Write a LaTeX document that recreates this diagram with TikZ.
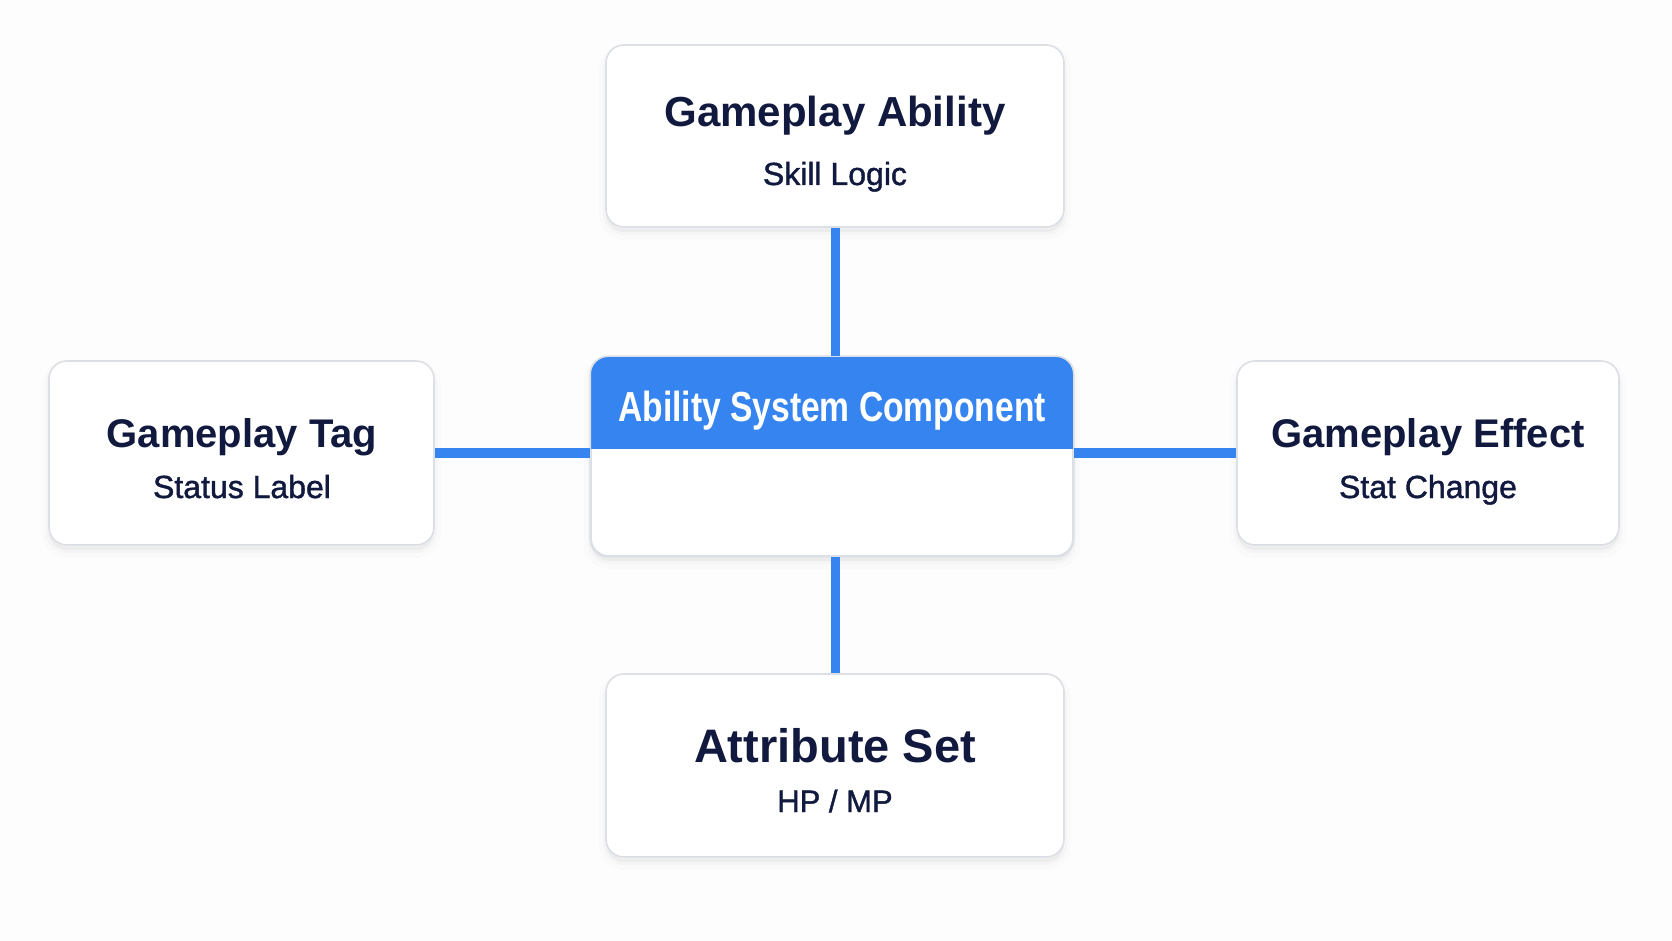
\documentclass[tikz,border=0pt]{standalone}
\usepackage{fontspec}
\setmainfont{Liberation Sans}
\newfontfamily\medfont{Liberation Sans}[FakeBold=1.3]
\definecolor{navy}{HTML}{111A3E}
\definecolor{blu}{HTML}{3584F0}
\definecolor{bord}{HTML}{DCDFE4}
\definecolor{bgc}{HTML}{FDFDFE}
\tikzset{
  card/.style={rectangle, draw=bord, line width=0.8pt, fill=white, rounded corners=9pt, inner sep=0pt,
    preaction={draw=black, draw opacity=0.012, line width=7pt, transform canvas={yshift=-3pt}},
    preaction={fill=black, fill opacity=0.035, draw=black, draw opacity=0.02, line width=3pt, transform canvas={yshift=-2.5pt}}},
  title/.style={anchor=base, text=navy, font=\bfseries\fontsize{20}{24}\selectfont, inner sep=0pt},
  sub/.style={anchor=base, text=navy, font=\medfont\fontsize{16}{19}\selectfont, inner sep=0pt},
  link/.style={draw=blu, line width=4.5pt},
}
\begin{document}
\begin{tikzpicture}[x=0.5pt, y=-0.5pt]
\fill[bgc] (0,0) rectangle (1672,941);
\useasboundingbox (0,0) rectangle (1672,941);

% cards
\node[card, minimum width=229pt, minimum height=91pt] (ga) at (835,136) {};
\node[card, minimum width=192.5pt, minimum height=92pt] (gt) at (241.5,453) {};
\node[card, minimum width=191pt, minimum height=92pt] (ge) at (1428,453) {};
\node[card, minimum width=229pt, minimum height=91.5pt] (as) at (835,765.5) {};
\node[card, minimum width=241pt, minimum height=99.5pt] (asc) at (832,456.5) {};

% header of the central card
\begin{scope}
  \clip[rounded corners=9pt] (asc.south west) rectangle (asc.north east);
  \fill[blu] (asc.north west) rectangle ([yshift=-46.5pt]asc.north east);
\end{scope}
\draw[bord, line width=0.8pt, rounded corners=9pt] (asc.south west) rectangle (asc.north east);

% connectors
\draw[link] (ga.south) -- (ga.south |- asc.north);
\draw[link] (as.north) -- (as.north |- asc.south);
\draw[link] (gt.east) -- (gt.east -| asc.west);
\draw[link] (ge.west) -- (ge.west -| asc.east);

% texts
\node[title, font=\bfseries\fontsize{21}{25}\selectfont] (gat) at (835,127) {Gameplay Ability};
\node[sub] (gas) at (835,185) {Skill Logic};
\node[title] (gtt) at (242,447) {Gameplay Tag};
\node[sub] (gts) at (242,498) {Status Label};
\node[title] (get) at (1428,447) {Gameplay Effect};
\node[sub] (ges) at (1428,498) {Stat Change};
\node[title, font=\bfseries\fontsize{23.5}{28}\selectfont] (ast) at (835,762) {Attribute Set};
\node[sub, font=\medfont\fontsize{15.5}{19}\selectfont] (ass) at (835,812) {HP / MP};
\node[title, text=white, font=\bfseries\fontsize{21}{25}\selectfont] (asct) at (832,422) {\scalebox{0.8}[1]{Ability System Component}};
\end{tikzpicture}
\end{document}
